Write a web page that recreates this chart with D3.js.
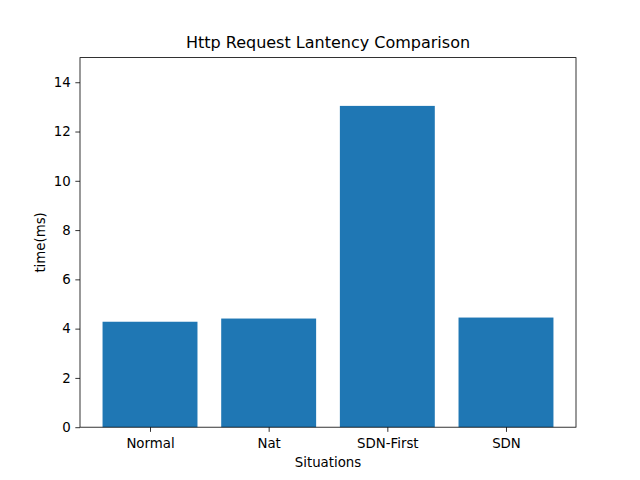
<!DOCTYPE html>
<html><head><meta charset="utf-8">
<script src="https://cdn.jsdelivr.net/npm/d3@7"></script>
<style>body{margin:0;background:#fff}svg{display:block}text{font-family:"DejaVu Sans",sans-serif;fill:#000}</style>
</head><body>
<script>
const categories = ["Normal", "Nat", "SDN-First", "SDN"];
const values = [4.28, 4.41, 13.04, 4.45];
const yTicks = [0, 2, 4, 6, 8, 10, 12, 14];
const title = "Http Request Lantency Comparison";
const xLabel = "Situations";
const yLabel = "time(ms)";

const W = 640, H = 480;
const m = {left: 80, right: 576, top: 57.6, bottom: 427.2};
const svg = d3.select("body").append("svg").attr("width", W).attr("height", H);

const barW = 0.8;
const x = d3.scaleLinear().domain([-0.4 - 0.19, 3.4 + 0.19]).range([m.left, m.right]);
const y = d3.scaleLinear().domain([0, 15]).range([m.bottom, m.top]);

svg.append("g").selectAll("rect").data(values).join("rect")
  .attr("x", (d, i) => x(i - barW / 2))
  .attr("width", (d, i) => x(i + barW / 2) - x(i - barW / 2))
  .attr("y", d => y(d))
  .attr("height", d => y(0) - y(d))
  .attr("fill", "#1f77b4");

const xAxis = d3.axisBottom(x).tickValues(d3.range(categories.length))
  .tickFormat(i => categories[i]).tickSizeOuter(0).tickSize(4.67).tickPadding(6.5);
const gx = svg.append("g").attr("transform", `translate(0,${m.bottom})`).call(xAxis);
const yAxis = d3.axisLeft(y).tickValues(yTicks).tickSizeOuter(0).tickSize(4.67).tickPadding(4.67);
const gy = svg.append("g").attr("transform", `translate(${m.left},0)`).call(yAxis);
[gx, gy].forEach(g => {
  g.select(".domain").remove();
  g.selectAll("text").style("font-size", "13.33px").style("font-family", "DejaVu Sans");
  g.selectAll("line").attr("stroke", "#000").attr("stroke-width", 0.8);
});

svg.append("rect").attr("x", m.left).attr("y", m.top)
  .attr("width", m.right - m.left).attr("height", m.bottom - m.top)
  .attr("fill", "none").attr("stroke", "#000").attr("stroke-width", 0.8);

svg.append("text").attr("x", (m.left + m.right) / 2).attr("y", m.top - 10)
  .attr("text-anchor", "middle").style("font-size", "16px").text(title);
svg.append("text").attr("x", (m.left + m.right) / 2).attr("y", 467)
  .attr("text-anchor", "middle").style("font-size", "13.33px").text(xLabel);
svg.append("text").attr("transform", `translate(45,${(m.top + m.bottom) / 2}) rotate(-90)`)
  .attr("text-anchor", "middle").style("font-size", "13.33px").text(yLabel);
</script>
</body></html>
